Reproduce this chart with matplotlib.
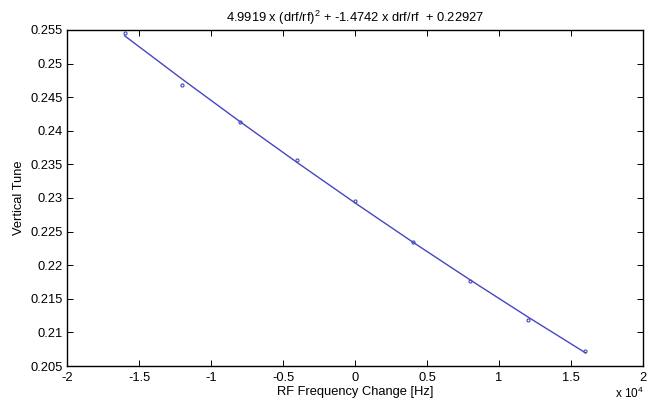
#!/usr/bin/env python3

import matplotlib
matplotlib.use("Agg")
import matplotlib.pyplot as plt
from matplotlib.ticker import FuncFormatter

drf = [-16000, -12000, -8000, -4000, 0, 4000, 8000, 12000, 16000]
tune = [0.2546, 0.24677, 0.24127, 0.23561, 0.22955, 0.22345, 0.2176, 0.21189, 0.20723]

# Quadratic fit curve sampled at the same offsets
fit_tune = [0.25414, 0.24768, 0.24138, 0.23525, 0.22927, 0.22345, 0.21780, 0.21230, 0.20696]

title = r"4.9919 x (drf/rf)$^{2}$ + -1.4742 x drf/rf  + 0.22927"
xticks = [-20000, -15000, -10000, -5000, 0, 5000, 10000, 15000, 20000]
yticks = [0.205, 0.21, 0.215, 0.22, 0.225, 0.23, 0.235, 0.24, 0.245, 0.25, 0.255]

plt.rcParams['font.family'] = ['Liberation Sans', 'DejaVu Sans']
plt.rcParams['mathtext.fontset'] = 'custom'
plt.rcParams['mathtext.rm'] = 'Liberation Sans'
plt.rcParams['mathtext.it'] = 'Liberation Sans'

fs = 9.3

fig = plt.figure(figsize=(6.48, 4.03), dpi=100)
ax = fig.add_axes([0.1034, 0.0918, 0.889, 0.8338])

blue = '#4646c0'
ax.plot(drf, fit_tune, '-', color=blue, lw=1.0)
ax.plot(drf, tune, 'o', color=blue, ms=2.2, mfc='none', mew=0.8)

ax.set_xlim(-20000, 20000)
ax.set_ylim(0.205, 0.255)
ax.set_xticks(xticks)
ax.set_yticks(yticks)
ax.xaxis.set_major_formatter(FuncFormatter(lambda v, p: "%g" % (v / 1e4)))
ax.yaxis.set_major_formatter(FuncFormatter(lambda v, p: "%g" % v))

ax.tick_params(direction='in', length=4, width=0.7, labelsize=fs,
               top=True, right=True, pad=3)
ax.tick_params(axis='x', pad=4.5)
for s in ax.spines.values():
    s.set_linewidth(1.0)

ax.set_title(title, fontsize=fs, pad=6)
ax.set_xlabel("RF Frequency Change [Hz]", fontsize=fs, labelpad=1.5)
ax.set_ylabel("Vertical Tune", fontsize=fs, labelpad=4)
fig.text(0.972, 0.005, r"x 10$^{4}$", fontsize=8.5, ha='center', va='bottom')

fig.savefig("out.png", dpi=100)
